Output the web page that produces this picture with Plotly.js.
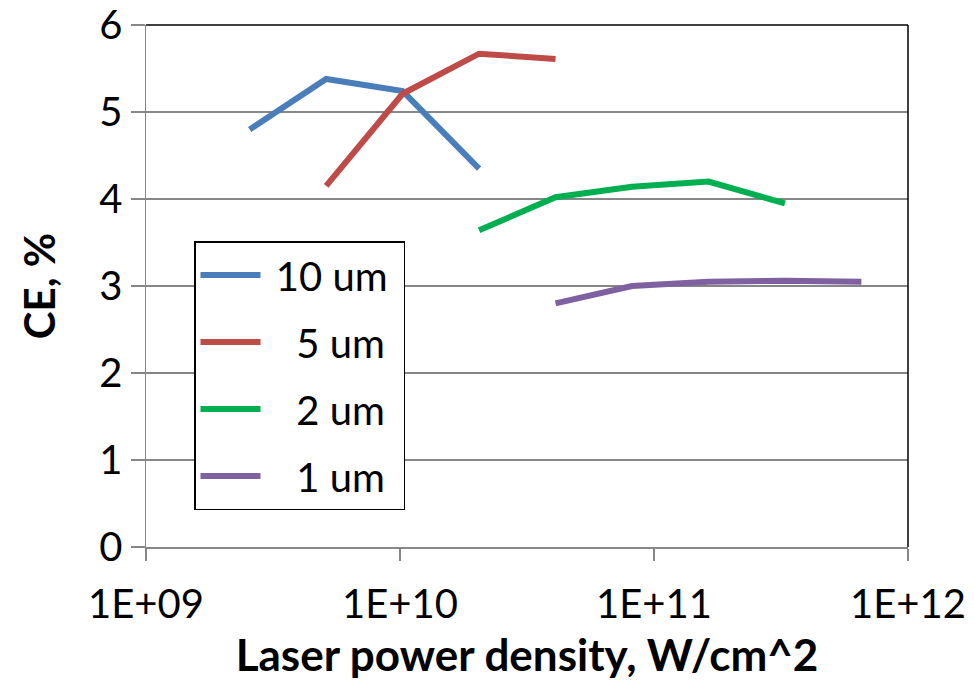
<!DOCTYPE html>
<html>
<head>
<meta charset="utf-8">
<script src="https://cdn.plot.ly/plotly-3.0.1.min.js"></script>
<style>html,body{margin:0;padding:0;background:#fff;}#chart{width:975px;height:683px;}</style>
</head>
<body>
<div id="chart"></div>
<script>
// Data
const seriesNames = ["\u00a010 um\u00a0", "\u00a0\u00a0\u00a05 um\u00a0", "\u00a0\u00a0\u00a02 um\u00a0", "\u00a0\u00a0\u00a01 um\u00a0"];
const x10um = [2.56e9, 5.12e9, 1.024e10, 2.048e10];
const y10um = [4.80, 5.38, 5.24, 4.35];
const x5um = [5.12e9, 1.024e10, 2.048e10, 4.096e10];
const y5um = [4.15, 5.21, 5.67, 5.61];
const x2um = [2.048e10, 4.096e10, 8.192e10, 1.6384e11, 3.2768e11];
const y2um = [3.64, 4.02, 4.14, 4.20, 3.95];
const x1um = [4.096e10, 8.192e10, 1.6384e11, 3.2768e11, 6.5536e11];
const y1um = [2.80, 3.00, 3.05, 3.06, 3.05];
const colors = ["#4a7ebb", "#be4b48", "#00b050", "#7f60a0"];
const xTickVals = [1e9, 1e10, 1e11, 1e12];
const xTickText = ["1E+09", "1E+10", "1E+11", "1E+12"];

const xs = [x10um, x5um, x2um, x1um];
const ys = [y10um, y5um, y2um, y1um];
const traces = xs.map((x, i) => ({
  x: x, y: ys[i], type: "scatter", mode: "lines", name: seriesNames[i],
  legendgroup: "g" + i,
  line: {color: colors[i], width: 6}
}));

const fontFam = "Lato, 'Open Sans', sans-serif";
const layout = {
  width: 975, height: 683,
  paper_bgcolor: "#fff", plot_bgcolor: "#fff",
  margin: {l: 146, r: 67, t: 25, b: 136},
  font: {family: fontFam, color: "#000"},
  showlegend: true,
  legend: {
    x: 0.063, y: 0.586, xanchor: "left", yanchor: "top",
    bordercolor: "#000", borderwidth: 1.5, bgcolor: "#fff",
    font: {family: fontFam, size: 40, color: "#000"},
    tracegroupgap: 12, itemwidth: 60
  },
  xaxis: {
    type: "log", range: [9, 12],
    tickvals: xTickVals, ticktext: xTickText,
    tickfont: {size: 40, family: fontFam},
    ticklabelstandoff: 9,
    showgrid: false, zeroline: false,
    showline: true, linecolor: "#868686", linewidth: 1.5,
    ticks: "outside", ticklen: 12, tickcolor: "#868686", tickwidth: 1.5,
    title: {text: "<b>Laser power density, W/cm^2</b>", font: {size: 44, family: fontFam}, standoff: 14}
  },
  yaxis: {
    range: [0, 6], dtick: 1, tick0: 0,
    tickfont: {size: 40, family: fontFam},
    showgrid: true, gridcolor: "#868686", gridwidth: 1.5,
    zeroline: false,
    showline: true, linecolor: "#868686", linewidth: 1.5,
    ticks: "outside", ticklen: 14, tickcolor: "#868686", tickwidth: 1.5,
    title: {text: "<b>CE, %</b>", font: {size: 42, family: fontFam}, standoff: 30}
  },
  shapes: [
    {type: "line", xref: "paper", yref: "paper", x0: 0, x1: 1, y0: 1, y1: 1, line: {color: "#000", width: 1.5}},
    {type: "line", xref: "paper", yref: "paper", x0: 1, x1: 1, y0: 0, y1: 1, line: {color: "#000", width: 1.5}}
  ]
};

Plotly.newPlot("chart", traces, layout, {displayModeBar: false, staticPlot: true});
</script>
</body>
</html>
